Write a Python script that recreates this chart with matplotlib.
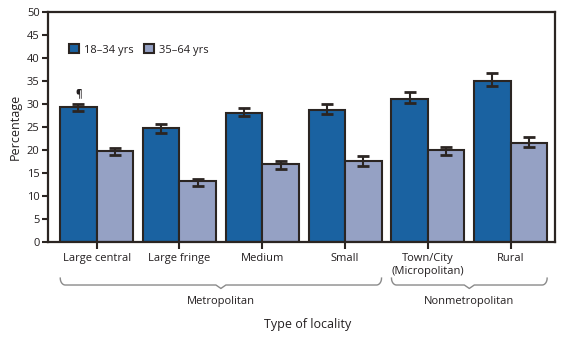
import matplotlib
matplotlib.use("Agg")
import matplotlib.pyplot as plt
import numpy as np
from matplotlib.patches import Patch
from matplotlib.lines import Line2D
import matplotlib.transforms as mtransforms

categories = ["Large central", "Large fringe", "Medium", "Small", "Town/City\n(Micropolitan)", "Rural"]
young = [29.3, 24.85, 28.05, 28.8, 31.1, 34.9]
young_lo = [28.5, 23.8, 27.4, 27.8, 30.3, 33.9]
young_hi = [30.1, 25.65, 29.1, 30.1, 32.6, 36.8]
older = [19.8, 13.2, 16.9, 17.6, 20.0, 21.5]
older_lo = [18.9, 12.2, 15.8, 16.6, 18.9, 20.7]
older_hi = [20.5, 13.7, 17.6, 18.7, 20.6, 22.8]
series_names = ["18\u201334 yrs", "35\u201364 yrs"]
groups = [("Metropolitan", 0, 3), ("Nonmetropolitan", 4, 5)]

plt.rcParams['font.family'] = ['Open Sans', 'DejaVu Sans']
txt = "#231f20"
edge = "#2b2522"
blue = "#1a62a1"
grey = "#95a1c4"

fig = plt.figure(figsize=(5.77, 3.37), dpi=100)
ax = fig.add_axes([48/577, 1-242/337, (555-48)/577, (242-12)/337])

x = np.arange(len(categories))
w = 0.44
yerr_y = [np.array(young) - np.array(young_lo), np.array(young_hi) - np.array(young)]
yerr_o = [np.array(older) - np.array(older_lo), np.array(older_hi) - np.array(older)]
ax.bar(x - w/2, young, w, color=blue, edgecolor=edge, linewidth=1.5, zorder=2)
ax.bar(x + w/2, older, w, color=grey, edgecolor=edge, linewidth=1.5, zorder=2)
ax.errorbar(x - w/2, young, yerr=yerr_y, fmt='none', ecolor=edge, elinewidth=1.5,
            capsize=4, capthick=2, zorder=3)
ax.errorbar(x + w/2, older, yerr=yerr_o, fmt='none', ecolor=edge, elinewidth=1.5,
            capsize=4, capthick=2, zorder=3)

ax.text(x[0] - w/2, young_hi[0] + 1.0, "\u00b6", ha='center', va='bottom', fontsize=7,
        fontweight='bold', color=txt)

ax.set_xlim(-0.588, 5.535)
ax.set_ylim(0, 50)
ax.set_yticks(np.arange(0, 51, 5))
ax.set_xticks(x)
ax.set_xticklabels(categories, fontsize=8, color=txt, linespacing=1.2)
ax.tick_params(axis='x', length=5, width=1.5, color=edge, pad=3)
ax.tick_params(axis='y', length=4, width=1.5, color=edge, labelsize=8, labelcolor=txt, pad=2)
for s in ax.spines.values():
    s.set_linewidth(1.6)
    s.set_color(edge)
ax.set_ylabel("Percentage", fontsize=9, color=txt, labelpad=4)

handles = [Patch(facecolor=blue, edgecolor=edge, linewidth=1.5),
           Patch(facecolor=grey, edgecolor=edge, linewidth=1.5)]
ax.legend(handles, series_names, loc='center left', bbox_to_anchor=(0.022, 0.835),
          ncol=2, frameon=False, fontsize=8, handlelength=0.9, handleheight=0.9,
          handletextpad=0.4, columnspacing=1.0, labelcolor=txt)

# brackets
trans = mtransforms.blended_transform_factory(ax.transData, ax.transAxes)
y_top, y_line, y_notch = -0.157, -0.187, -0.207
r = 0.06
for name, i0, i1 in groups:
    xl = x[i0] - 0.44
    xr = x[i1] + 0.44
    xc = (xl + xr) / 2
    t = np.linspace(0, np.pi/2, 10)
    lx = xl + r * (1 - np.cos(t))
    ly = y_top + (y_line - y_top) * np.sin(t)
    rx = xr - r * (1 - np.cos(t[::-1]))
    ry = y_top + (y_line - y_top) * np.sin(t[::-1])
    xs = np.concatenate([lx, [xc - 0.06, xc, xc + 0.06], rx])
    ys = np.concatenate([ly, [y_line, y_notch + 0.005, y_line], ry])
    ax.add_line(Line2D(xs, ys, transform=trans, clip_on=False, color="#8a8a8a", lw=1.0))
    ax.text(xc, -0.26, name, transform=trans, ha='center', va='center',
            fontsize=8, color=txt)

ax.text((x[0] + x[-1]) / 2 + 0.05, -0.36, "Type of locality", transform=trans, ha='center',
        va='center', fontsize=9, color=txt)

fig.savefig("out.png", dpi=100)
